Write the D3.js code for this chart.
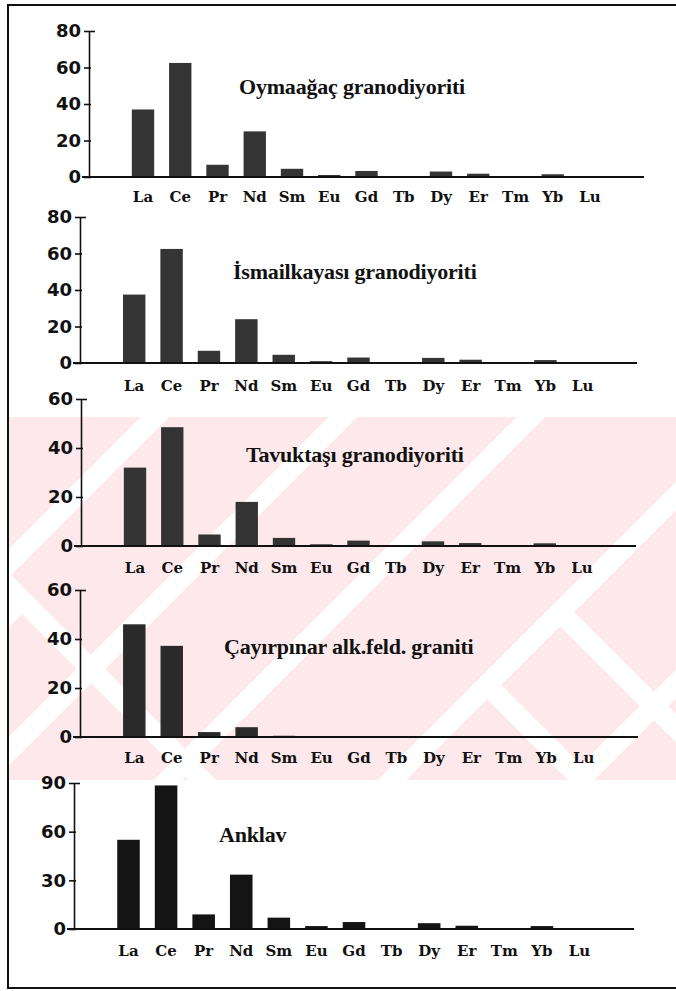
<!DOCTYPE html>
<html>
<head>
<meta charset="utf-8">
<script src="https://cdn.jsdelivr.net/npm/d3@7"></script>
<style>
  html, body { margin: 0; padding: 0; background: #fff; }
  svg { display: block; }
  .ytick text { font-family: "DejaVu Sans", sans-serif; font-weight: bold; font-size: 18px; fill: #111; }
  .xlab text { font-family: "DejaVu Serif", serif; font-weight: bold; font-size: 15px; fill: #111; }
  .title { font-family: "Liberation Serif", "Times New Roman", serif; font-weight: bold; font-size: 22px; fill: #111; letter-spacing: -0.2px; }
</style>
</head>
<body>
<script>
// REE elements on the x axis
const elements = ["La", "Ce", "Pr", "Nd", "Sm", "Eu", "Gd", "Tb", "Dy", "Er", "Tm", "Yb", "Lu"];

// panel titles
const titles = ["Oymaağaç granodiyoriti", "İsmailkayası granodiyoriti", "Tavuktaşı granodiyoriti",
                "Çayırpınar alk.feld. graniti", "Anklav"];

// values (ppm)
const oymaagac    = [37, 62.5, 6.7, 25, 4.5, 1.1, 3.3, 0.4, 3.0, 1.8, 0.3, 1.5, 0.3];
const ismailkaya  = [37.5, 62.5, 6.7, 24, 4.5, 1.0, 3.0, 0.5, 2.8, 1.8, 0.3, 1.6, 0.3];
const tavuktasi   = [32, 48.5, 4.7, 18, 3.3, 0.7, 2.2, 0.4, 1.9, 1.2, 0.2, 1.1, 0.2];
const cayirpinar  = [46, 37.2, 2.0, 4.0, 0.5, 0.2, 0.3, 0.1, 0.4, 0.3, 0.1, 0.4, 0.2];
const anklav      = [55, 88.5, 9, 33.5, 7, 1.8, 4.3, 0.6, 3.6, 2.0, 0.3, 1.8, 0.4];

// y tick labels
const ticks80 = [0, 20, 40, 60, 80];
const ticks60 = [0, 20, 40, 60];
const ticks90 = [0, 30, 60, 90];

const series = [oymaagac, ismailkaya, tavuktasi, cayirpinar, anklav];
const tickSets = [ticks80, ticks80, ticks60, ticks60, ticks90];

// layout of each panel (pixels)
const panels = [
  {ax: 89, ex: 644, y0: 177, yt: 31,  tx: 239, ty: 94,  ly: 202, fill: "#353535"},
  {ax: 80, ex: 637, y0: 363, yt: 217, tx: 233, ty: 279, ly: 391, fill: "#353535"},
  {ax: 81, ex: 636, y0: 546, yt: 399, tx: 246, ty: 462, ly: 573, fill: "#333"},
  {ax: 80, ex: 638, y0: 737, yt: 590, tx: 224, ty: 654, ly: 763, fill: "#2a2a2a"},
  {ax: 74, ex: 634, y0: 929, yt: 783, tx: 219, ty: 842, ly: 956, fill: "#141414"}
];

const width = 676, height = 991;
const svg = d3.select("body").append("svg")
    .attr("width", width)
    .attr("height", height);

// faint pink watermark band in the background
const wm = svg.append("g");
svg.append("clipPath").attr("id", "wmclip")
  .append("rect").attr("x", 8).attr("y", 417).attr("width", width).attr("height", 363);
wm.append("rect")
    .attr("x", 8).attr("y", 417).attr("width", width).attr("height", 363)
    .attr("fill", "#fde8eb");
const wmLines = wm.append("g").attr("clip-path", "url(#wmclip)")
    .attr("stroke", "#fff").attr("stroke-width", 20).attr("fill", "none");
// "/" stripes, x + y = c
[572, 760, 948, 1172, 1360].forEach(c => {
  wmLines.append("line").attr("x1", c - 400).attr("y1", 400).attr("x2", c - 800).attr("y2", 800);
});
// "\" arms going down-right from a few apexes
[[560, 612], [487, 685], [22, 600]].forEach(([px, py]) => {
  wmLines.append("line").attr("x1", px).attr("y1", py).attr("x2", px + 250).attr("y2", py + 250);
});
wmLines.append("line").attr("x1", 22).attr("y1", 600).attr("x2", -200).attr("y2", 378);
wmLines.append("line").attr("x1", 22).attr("y1", 600).attr("x2", -200).attr("y2", 822);

// frame
svg.append("path")
    .attr("d", "M676,5 L8,5 L8,988 L676,988")
    .attr("fill", "none")
    .attr("stroke", "#111")
    .attr("stroke-width", 2);

panels.forEach((p, i) => {
  const vals = series[i];
  const ticks = tickSets[i];
  const g = svg.append("g");

  const x = d3.scaleBand()
      .domain(elements)
      .range([p.ax, p.ex])
      .paddingInner(0.4)
      .paddingOuter(1.15);

  const y = d3.scaleLinear()
      .domain([0, d3.max(ticks)])
      .range([p.y0, p.yt]);

  // bars
  g.append("g").selectAll("rect")
    .data(vals)
    .join("rect")
      .attr("x", (d, j) => x(elements[j]))
      .attr("y", d => y(d))
      .attr("width", x.bandwidth())
      .attr("height", d => y(0) - y(d))
      .attr("fill", p.fill);

  // y axis
  const yAxis = g.append("g")
      .attr("class", "ytick")
      .attr("transform", `translate(${p.ax},0)`)
      .call(d3.axisLeft(y).tickValues(ticks).tickSize(5).tickSizeOuter(0).tickPadding(3));
  yAxis.select(".domain").attr("stroke", "#111").attr("stroke-width", 1.6);
  yAxis.selectAll(".tick line")
      .attr("stroke", "#111").attr("stroke-width", 1.6)
      .attr("x1", d => d === d3.max(ticks) ? 6 : 2);

  // baseline
  g.append("line")
      .attr("x1", p.ax - 7).attr("x2", p.ex)
      .attr("y1", y(0)).attr("y2", y(0))
      .attr("stroke", "#111").attr("stroke-width", 2);

  // element labels
  const xAxis = g.append("g")
      .attr("class", "xlab")
      .attr("transform", `translate(0,${p.ly})`)
      .call(d3.axisBottom(x).tickSize(0).tickPadding(0));
  xAxis.select(".domain").remove();
  xAxis.selectAll("text").attr("dy", 0).attr("y", 0);

  // title
  g.append("text")
      .attr("class", "title")
      .attr("x", p.tx)
      .attr("y", p.ty)
      .text(titles[i]);
});
</script>
</body>
</html>
